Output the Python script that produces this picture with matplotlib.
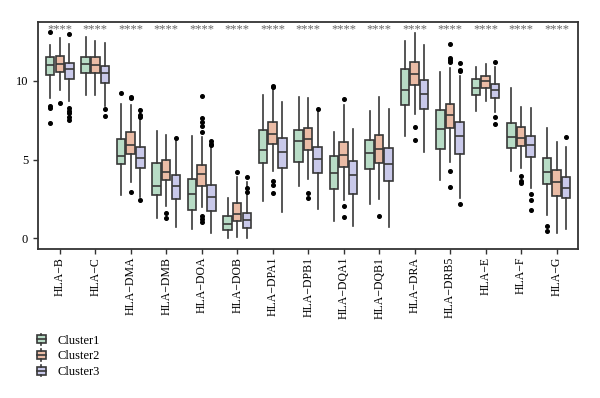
import numpy as np
import matplotlib.pyplot as plt
from matplotlib.legend_handler import HandlerBase
from matplotlib.patches import Rectangle
from matplotlib.lines import Line2D

plt.rcParams['font.family'] = ['Liberation Serif', 'DejaVu Serif']

genes = ["HLA\u2212B", "HLA\u2212C", "HLA\u2212DMA", "HLA\u2212DMB", "HLA\u2212DOA",
         "HLA\u2212DOB", "HLA\u2212DPA1", "HLA\u2212DPB1", "HLA\u2212DQA1", "HLA\u2212DQB1",
         "HLA\u2212DRA", "HLA\u2212DRB5", "HLA\u2212E", "HLA\u2212F", "HLA\u2212G"]
clusters = ["Cluster1", "Cluster2", "Cluster3"]
signif = ["****"] * len(genes)

# [whislo, q1, median, q3, whishi] per gene
cluster1_box = [
    [8.9, 10.36, 11.0, 11.5, 12.3],
    [9.1, 10.47, 11.06, 11.5, 12.77],
    [2.77, 4.74, 5.22, 6.3, 8.5],
    [1.27, 2.73, 3.34, 4.8, 6.79],
    [0.55, 1.8, 2.79, 3.78, 6.5],
    [-0.02, 0.51, 0.91, 1.4, 2.54],
    [2.35, 4.78, 5.6, 6.87, 9.07],
    [3.34, 4.82, 6.2, 6.85, 9.0],
    [1.08, 3.13, 4.12, 5.2, 6.77],
    [2.2, 4.42, 5.39, 6.24, 8.1],
    [6.49, 8.44, 9.41, 10.76, 12.56],
    [3.72, 5.64, 6.96, 8.16, 10.55],
    [8.1, 9.13, 9.53, 10.13, 10.85],
    [4.25, 5.73, 6.43, 7.34, 9.53],
    [1.5, 3.45, 4.23, 5.1, 7.0],
]
cluster2_box = [
    [9.43, 10.55, 11.1, 11.6, 12.7],
    [9.07, 10.47, 11.0, 11.54, 12.54],
    [3.57, 5.37, 5.94, 6.74, 8.48],
    [2.03, 3.7, 4.2, 4.95, 6.55],
    [1.97, 3.34, 4.1, 4.65, 6.43],
    [0.06, 1.12, 1.56, 2.24, 3.89],
    [4.25, 6.0, 6.6, 7.4, 9.68],
    [3.77, 5.58, 6.28, 7.0, 8.88],
    [2.45, 4.55, 5.29, 6.13, 8.48],
    [2.49, 4.78, 5.67, 6.58, 8.96],
    [7.89, 9.75, 10.44, 11.23, 13.04],
    [4.86, 7.02, 7.8, 8.56, 10.8],
    [8.73, 9.56, 9.96, 10.32, 11.08],
    [4.46, 5.84, 6.36, 7.06, 8.37],
    [0.3, 2.66, 3.59, 4.31, 6.11],
]
cluster3_box = [
    [8.7, 10.1, 10.76, 11.16, 12.35],
    [8.41, 9.87, 10.49, 10.93, 12.43],
    [2.62, 4.48, 5.12, 5.79, 8.2],
    [0.7, 2.47, 3.3, 4.02, 6.36],
    [0.34, 1.71, 2.62, 3.38, 5.77],
    [-0.02, 0.66, 1.14, 1.59, 3.6],
    [1.69, 4.46, 5.5, 6.34, 8.63],
    [1.88, 4.14, 5.05, 5.77, 8.2],
    [0.76, 2.81, 4.0, 4.88, 6.96],
    [0.7, 3.64, 4.69, 5.71, 8.22],
    [5.45, 8.22, 9.18, 10.06, 12.3],
    [2.56, 5.35, 6.47, 7.38, 10.32],
    [8.05, 8.92, 9.43, 9.77, 10.85],
    [3.19, 5.14, 5.9, 6.47, 8.27],
    [0.61, 2.56, 3.19, 3.91, 5.81],
]

cluster1_fliers = [
    [13.1, 8.4, 8.27, 7.3], [], [9.22], [], [], [], [], [], [], [], [], [], [], [],
    [0.76, 0.44],
]
cluster2_fliers = [
    [8.6], [], [8.96, 8.9, 2.96], [1.6, 1.25],
    [9.05, 7.63, 7.38, 7.1, 6.77, 1.4, 1.2, 1.0], [4.23],
    [9.68, 9.6, 3.62, 3.38, 2.88], [2.9, 2.56], [8.86, 2.07, 1.33], [1.4],
    [7.06, 6.22], [12.33, 11.48, 11.33, 11.23, 4.25, 3.23], [],
    [3.93, 3.62, 3.51], [],
]
cluster3_fliers = [
    [12.96, 8.3, 8.1, 7.95, 7.7, 7.5], [8.22, 7.78], [8.12, 7.84, 7.7, 2.45],
    [6.34], [6.15, 6.0, 5.9], [3.89, 3.19, 2.92], [], [8.22], [], [], [],
    [11.12, 10.7, 10.6, 2.16], [11.23, 7.7, 7.27], [2.83, 2.45, 1.78], [6.45],
]

colors = ["#b8dcc6", "#ebbca6", "#c9c9ea"]
edge = "#383838"

fig = plt.figure(figsize=(6, 3.98), dpi=100)
ax = fig.add_axes([0.063, 0.374, 0.9, 0.571])

boxes = [cluster1_box, cluster2_box, cluster3_box]
fliers = [cluster1_fliers, cluster2_fliers, cluster3_fliers]
offsets = [-0.27, 0.0, 0.27]
x = np.arange(1, len(genes) + 1)

for k in range(3):
    stats = []
    for g in range(len(genes)):
        lo, q1, med, q3, hi = boxes[k][g]
        stats.append(dict(whislo=lo, q1=q1, med=med, q3=q3, whishi=hi,
                          fliers=fliers[k][g]))
    ax.bxp(stats, positions=x + offsets[k], widths=0.24, patch_artist=True,
           showcaps=False, manage_ticks=False,
           boxprops=dict(facecolor=colors[k], edgecolor=edge, linewidth=1.2),
           medianprops=dict(color=edge, linewidth=1.2),
           whiskerprops=dict(color=edge, linewidth=1.2),
           flierprops=dict(marker="o", markersize=2.6, markerfacecolor="black",
                           markeredgecolor="black"))

# significance marks along the top
for xi, s in zip(x, signif):
    ax.text(xi, 13.3, s, ha="center", va="center", fontsize=9, color="#666666")

ax.set_xlim(0.38, 15.6)
ax.set_ylim(-0.7, 13.75)
ax.set_xticks(x)
ax.set_xticklabels(genes, rotation=90, fontsize=8.5)
ax.set_yticks([0, 5, 10])
ax.tick_params(axis="y", labelsize=9, length=3.5, width=1, color="#333333")
ax.tick_params(axis="x", length=3.5, width=1, color="#333333", pad=2)
for sp in ax.spines.values():
    sp.set_color("#333333")
    sp.set_linewidth(1.3)


class BoxHandler(HandlerBase):
    def create_artists(self, legend, orig_handle, xdescent, ydescent,
                       width, height, fontsize, trans):
        w = width * 0.9
        x0 = xdescent + (width - w) / 2
        rect = Rectangle((x0, height * 0.05), w, height * 0.9,
                         facecolor=orig_handle.get_facecolor(), edgecolor=edge,
                         linewidth=1.2, transform=trans)
        mid = Line2D([x0, x0 + w], [height * 0.5] * 2, color=edge,
                     linewidth=1.2, transform=trans)
        cx = x0 + w / 2
        top = Line2D([cx, cx], [height * 0.95, height * 1.15], color=edge,
                     linewidth=1.2, transform=trans)
        bot = Line2D([cx, cx], [-height * 0.15, height * 0.05], color=edge,
                     linewidth=1.2, transform=trans)
        return [rect, mid, top, bot]


handles = [Rectangle((0, 0), 1, 1, facecolor=c) for c in colors]
fig.legend(handles, clusters, loc="upper left", bbox_to_anchor=(0.05, 0.175),
           frameon=False, fontsize=9, handlelength=0.8, handleheight=0.7,
           handletextpad=0.9, labelspacing=0.3, borderpad=0,
           handler_map={Rectangle: BoxHandler()})

fig.savefig("out.png", dpi=100)
